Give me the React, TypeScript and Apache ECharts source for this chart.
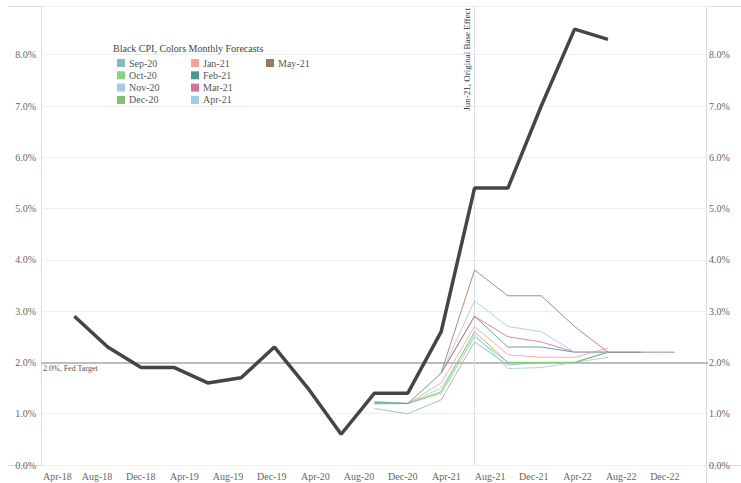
import React, { useEffect, useRef } from "react";
import * as echarts from "echarts";

const FONT = "'Liberation Serif', 'DejaVu Serif', serif";

const months = ["Jan", "Feb", "Mar", "Apr", "May", "Jun", "Jul", "Aug", "Sep", "Oct", "Nov", "Dec"];
// monthly categories Mar-18 .. Mar-23 (data axis)
const categories: string[] = [];
for (let y = 18; y <= 23; y++) {
  for (let m = 0; m < 12; m++) {
    if (y === 18 && m < 2) continue;
    if (y === 23 && m > 2) continue;
    categories.push(`${months[m]}-${y}`);
  }
}

// Axis tick labels (every 4 months)
const tickLabels = ["Apr-18", "Aug-18", "Dec-18", "Apr-19", "Aug-19", "Dec-19", "Apr-20", "Aug-20", "Dec-20", "Apr-21", "Aug-21", "Dec-21", "Apr-22", "Aug-22", "Dec-22"];

// Black CPI (actual)
const cpiDates = ["Jun-18", "Sep-18", "Dec-18", "Mar-19", "Jun-19", "Sep-19", "Dec-19", "Mar-20", "Jun-20", "Sep-20", "Dec-20", "Mar-21", "Jun-21", "Sep-21", "Dec-21", "Mar-22", "Jun-22"];
const cpiValues = [2.9, 2.3, 1.9, 1.9, 1.6, 1.7, 2.3, 1.5, 0.6, 1.4, 1.4, 2.6, 5.4, 5.4, 7.0, 8.5, 8.3];

// Forecast dates (quarterly)
const fcDates = ["Sep-20", "Dec-20", "Mar-21", "Jun-21", "Sep-21", "Dec-21", "Mar-22", "Jun-22", "Sep-22", "Dec-22"];

const sep20 = [1.1, 1.0, 1.27, 2.4, 1.95, 2.0, 2.0, 2.2];
const oct20 = [1.2, 1.2, 1.4, 2.5, 2.0, 2.0, 2.0, 2.2];
const nov20 = [1.24, 1.2, 1.5, 2.55, 1.88, 1.9, 2.0, 2.1];
const dec20 = [1.19, 1.2, 1.43, 2.6, 2.0, 2.0, 2.0, 2.2];
const jan21 = [1.21, 1.2, 1.6, 2.7, 2.15, 2.1, 2.1, 2.28];
const feb21 = [1.22, 1.2, 1.79, 2.9, 2.3, 2.3, 2.2, 2.2, 2.2];
const mar21 = [null, null, 1.79, 2.9, 2.5, 2.4, 2.2, 2.2];
const apr21 = [null, null, 1.79, 3.2, 2.7, 2.6, 2.2, 2.2];
const may21 = [null, null, 1.8, 3.8, 3.3, 3.3, 2.7, 2.2, 2.2, 2.2];

const forecastNames = ["Sep-20", "Oct-20", "Nov-20", "Dec-20", "Jan-21", "Feb-21", "Mar-21", "Apr-21", "May-21"];
const forecastValues = [sep20, oct20, nov20, dec20, jan21, feb21, mar21, apr21, may21];
const forecastColors = ["#86bcb6", "#8cd17d", "#a0cbe8", "#7cc46c", "#ff9d9a", "#499894", "#d37295", "#a0cbe8", "#9d7660"];

export default function App() {
  const ref = useRef<HTMLDivElement>(null);
  useEffect(() => {
    if (!ref.current) return;
    const chart = echarts.init(ref.current, null, { renderer: "svg" });

    const toPairs = (dates: string[], vals: (number | null)[]) =>
      vals
        .map((v, i) => (v === null || v === undefined ? null : [dates[i], v]))
        .filter((p) => p !== null);

    const fcSeries = forecastNames.map((name, i) => ({
      name,
      type: "line",
      data: toPairs(fcDates, forecastValues[i]),
      symbol: "none",
      lineStyle: { color: forecastColors[i], width: 1, opacity: 0.85 },
      itemStyle: { color: forecastColors[i] },
      z: 2,
    }));

    const legendBase = {
      orient: "vertical",
      top: 57,
      padding: 0,
      itemGap: 0.3,
      itemWidth: 8,
      itemHeight: 8,
      icon: "rect",
      textStyle: { fontFamily: FONT, fontSize: 10, color: "#555", lineHeight: 12, padding: [0, 0, 0, -1] },
    };

    const tickValues = tickLabels.map((_, i) => i * 4);

    chart.setOption({
      animation: false,
      backgroundColor: "#ffffff",
      title: {
        text: "Black CPI, Colors Monthly Forecasts",
        left: 113,
        top: 43,
        padding: 0,
        textStyle: { fontFamily: FONT, fontSize: 10, fontWeight: "normal", color: "#444" },
      },
      legend: [
        { ...legendBase, left: 117, data: forecastNames.slice(0, 4) },
        { ...legendBase, left: 191, data: forecastNames.slice(4, 8) },
        { ...legendBase, left: 266, data: forecastNames.slice(8) },
      ],
      grid: { left: 41, right: 33, top: 6, bottom: 18, containLabel: false },
      xAxis: [
        {
          type: "category",
          data: categories,
          boundaryGap: false,
          axisLine: { show: false },
          axisTick: { show: false },
          splitLine: { show: false },
          axisLabel: { show: false },
        },
        {
          type: "value",
          position: "bottom",
          min: -1.128,
          max: 59.95,
          axisLine: { show: false },
          axisTick: { show: false },
          splitLine: { show: false },
          axisLabel: {
            customValues: tickValues,
            formatter: (v: number) => {
              const lbl = tickLabels[Math.round(v / 4)] || "";
              return v === 0 ? `{f|${lbl}}` : lbl;
            },
            rich: { f: { padding: [0, 0, 0, 8], fontFamily: FONT, fontSize: 10, color: "#666" } },
            fontFamily: FONT,
            fontSize: 10,
            color: "#666",
            margin: 6,
          },
        },
      ],
      yAxis: [
        {
          type: "value",
          min: 0,
          max: 8.95,
          interval: 1,
          position: "left",
          axisLine: { show: false },
          axisTick: { show: false },
          splitLine: { show: true, lineStyle: { color: "#efefef", width: 1 } },
          axisLabel: {
            fontFamily: FONT,
            fontSize: 10,
            color: "#666",
            margin: 5,
            formatter: (v: number) => (Math.abs(v - Math.round(v)) < 1e-6 ? v.toFixed(1) + "%" : ""),
          },
        },
        {
          type: "value",
          min: 0,
          max: 8.95,
          interval: 1,
          position: "right",
          axisLine: { show: false },
          axisTick: { show: false },
          splitLine: { show: false },
          axisLabel: {
            fontFamily: FONT,
            fontSize: 10,
            color: "#666",
            margin: 1,
            formatter: (v: number) => (Math.abs(v - Math.round(v)) < 1e-6 ? v.toFixed(1) + "%" : ""),
          },
        },
      ],
      graphic: [
        { type: "line", shape: { x1: 8, y1: 6.5, x2: 741, y2: 6.5 }, style: { stroke: "#dcdcdc", lineWidth: 1 }, silent: true },
        { type: "line", shape: { x1: 8, y1: 465.5, x2: 741, y2: 465.5 }, style: { stroke: "#dcdcdc", lineWidth: 1 }, silent: true },
        { type: "line", shape: { x1: 41.5, y1: 6, x2: 41.5, y2: 466 }, style: { stroke: "#dcdcdc", lineWidth: 1 }, silent: true },
        { type: "line", shape: { x1: 706.5, y1: 6, x2: 706.5, y2: 483 }, style: { stroke: "#dcdcdc", lineWidth: 1 }, silent: true },
      ],
      series: [
        ...fcSeries,
        {
          name: "Black CPI",
          type: "line",
          data: toPairs(cpiDates, cpiValues),
          symbol: "none",
          lineStyle: { color: "#454545", width: 3.5 },
          itemStyle: { color: "#454545" },
          z: 5,
          markLine: {
            silent: true,
            symbol: ["none", "none"],
            z: 1,
            data: [
              {
                yAxis: 2,
                lineStyle: { color: "#aaaaaa", width: 1.5, type: "solid" },
                label: {
                  formatter: "2.0%, Fed Target",
                  position: "insideStartBottom",
                  distance: [2, 2],
                  fontFamily: FONT,
                  fontSize: 8,
                  color: "#555",
                },
              },
              {
                xAxis: "Jun-21",
                lineStyle: { color: "#dddddd", width: 1, type: "solid" },
                label: {
                  formatter: "Jun-21, Original Base Effect",
                  position: "insideEndTop",
                  distance: [2, 3],
                  fontFamily: FONT,
                  fontSize: 9,
                  color: "#333",
                },
              },
            ],
          },
        },
      ],
    });
    return () => chart.dispose();
  }, []);
  return (
    <div
      ref={ref}
      style={{ position: "fixed", left: 0, top: 0, width: 741, height: 483, background: "#fff" }}
    />
  );
}
